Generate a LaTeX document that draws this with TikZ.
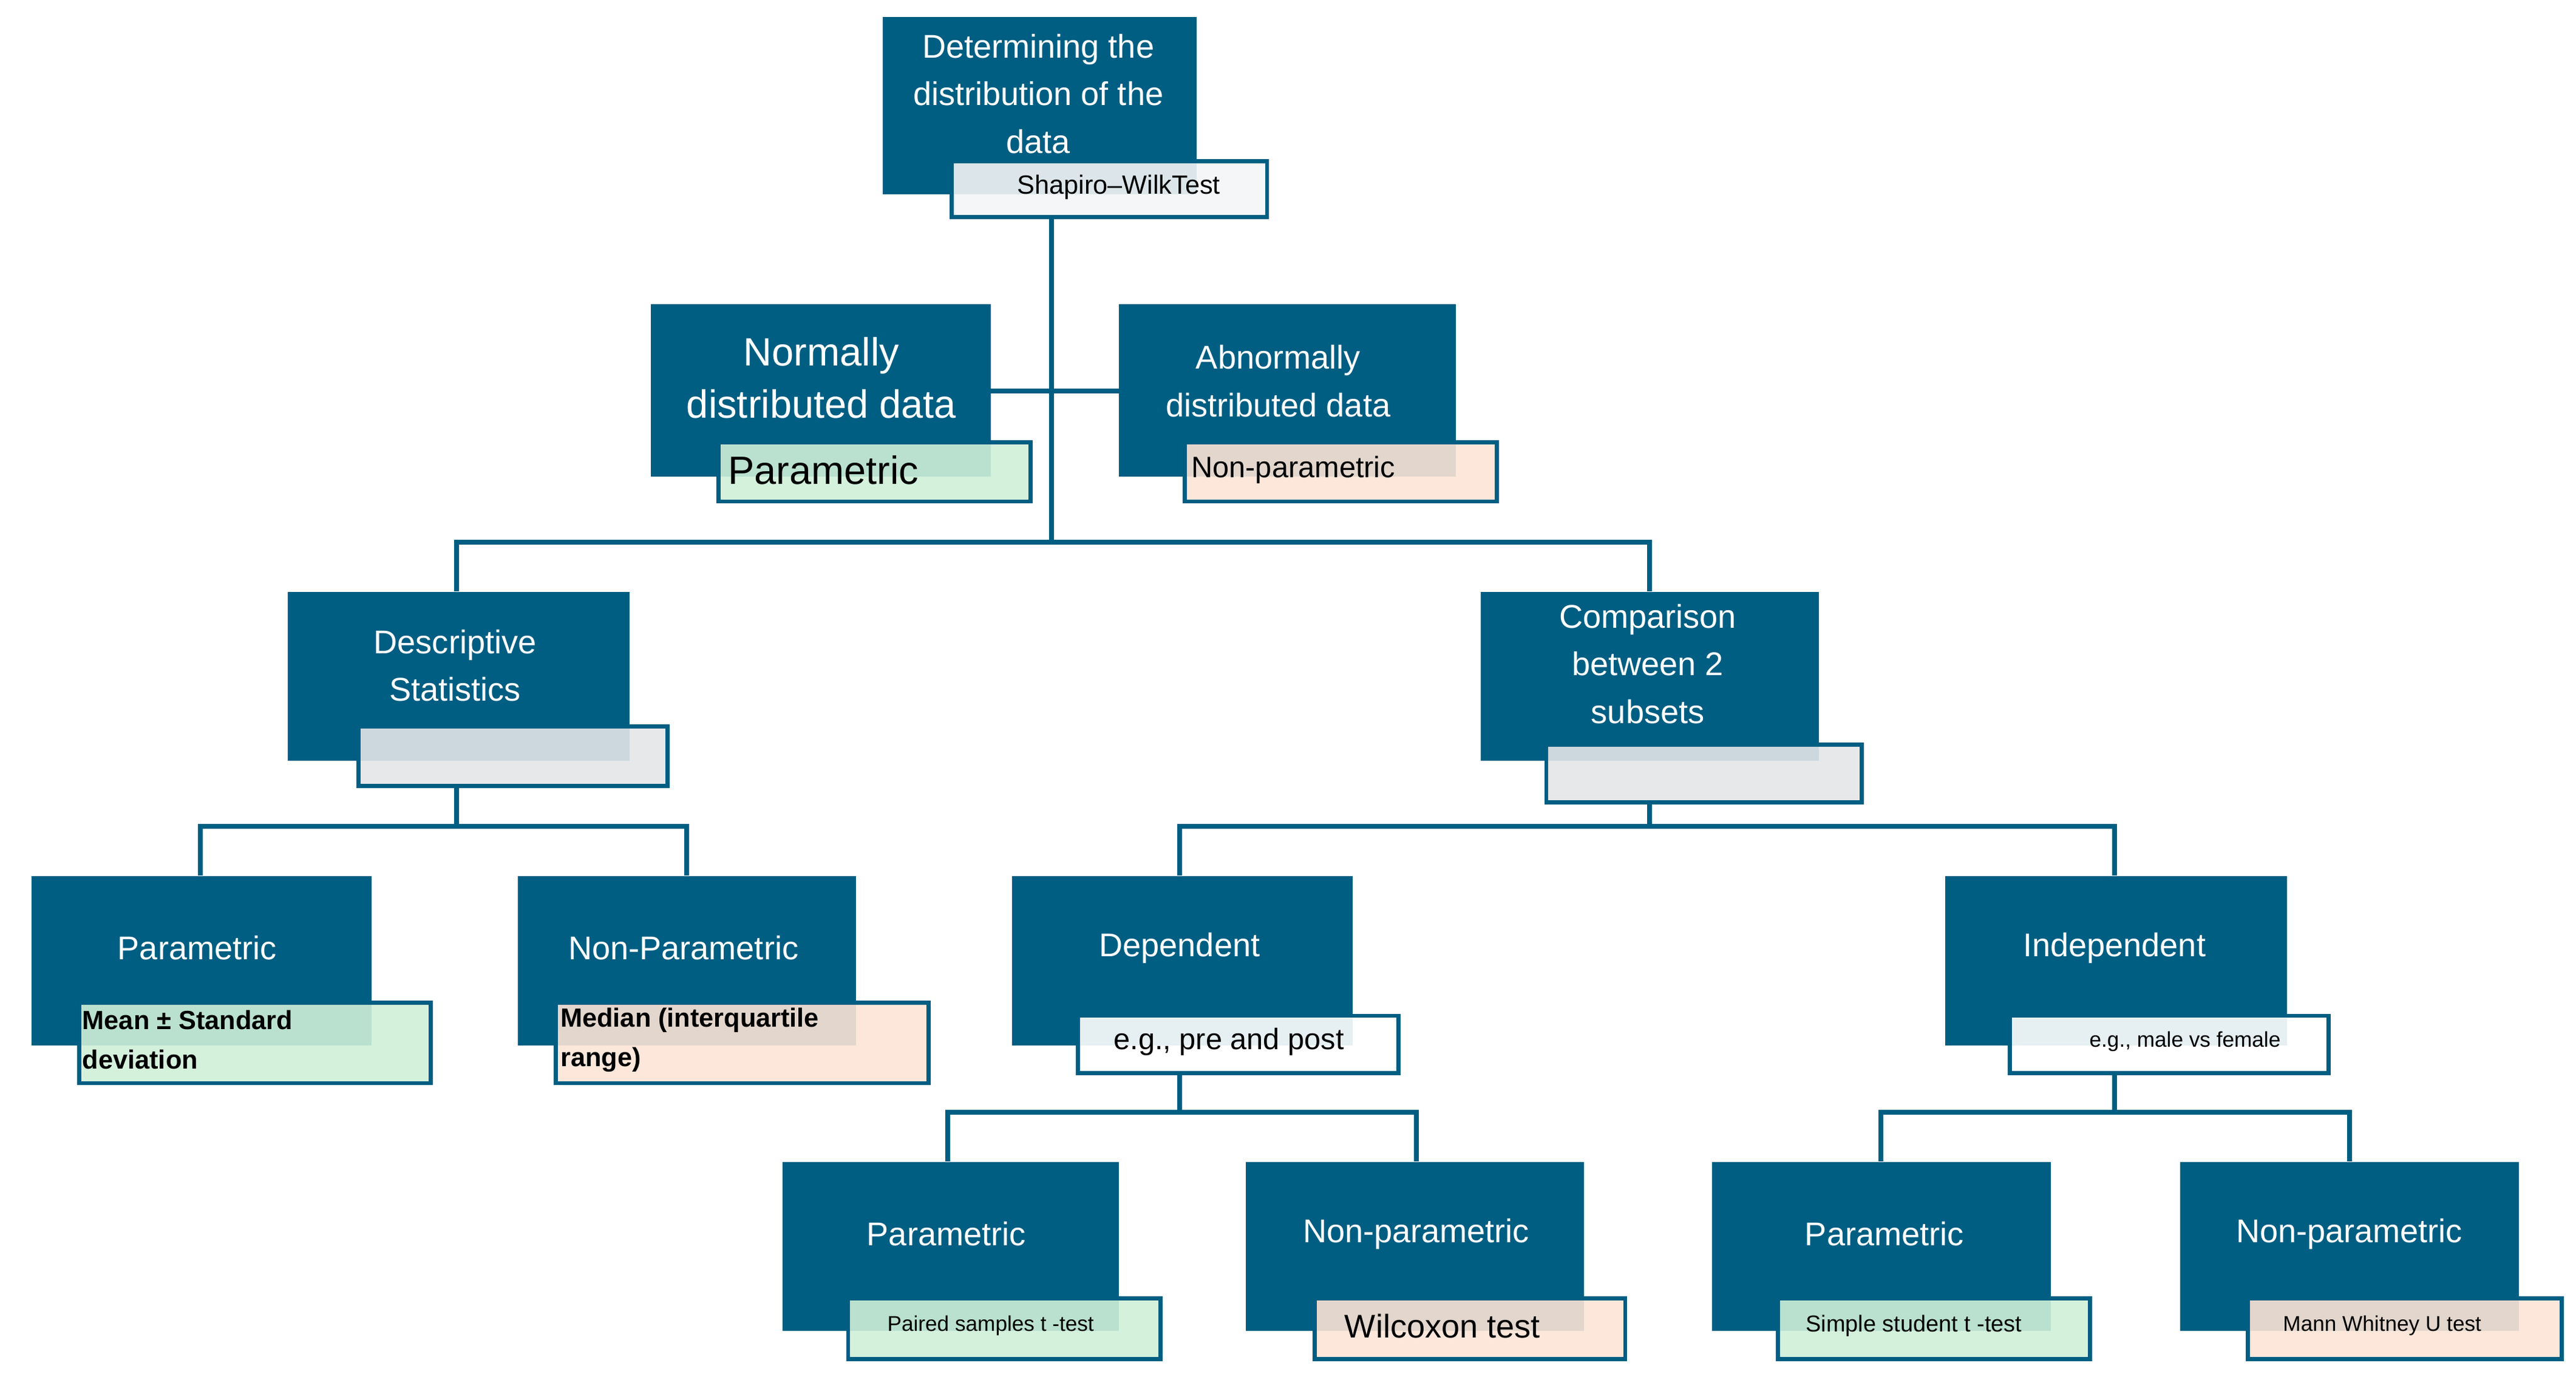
\documentclass[tikz,border=0pt]{standalone}
\usepackage{fontspec}
\setmainfont{Liberation Sans}
\definecolor{dblue}{RGB}{0,94,130}
\definecolor{pgreen}{RGB}{207,240,216}
\definecolor{ppeach}{RGB}{252,228,214}
\definecolor{pgray}{RGB}{227,230,232}
\tikzset{
  dbox/.style={fill=dblue,draw=none,anchor=north west,inner sep=0},
  sbox/.style={draw=dblue,line width=2.5pt,anchor=north west,inner sep=0,fill opacity=0.9},
  wtxt/.style={text=white,align=center,font=\fontsize{20}{29}\selectfont,inner sep=0},
  stxt/.style={text=black,inner sep=0},
  link/.style={draw=dblue,line width=3pt}
}
\begin{document}
\begin{tikzpicture}[x=1pt,y=-1pt]
\useasboundingbox (0,0) rectangle (1568,838);
% connectors
\coordinate (top) at (640,131);
\coordinate (hl) at (278,330); \coordinate (hr) at (1004,330);
\draw[link] (top) -- (640,330);
\draw[link] (603,238) -- (681,238);
\draw[link] (278,360) -- (hl) -- (hr) -- (1004,360);
\draw[link] (278,477) -- (278,503);
\draw[link] (122,533) -- (122,503) -- (418,503) -- (418,533);
\draw[link] (1004,487) -- (1004,503);
\draw[link] (718,533) -- (718,503) -- (1287,503) -- (1287,533);
\draw[link] (718,652) -- (718,677);
\draw[link] (577,707) -- (577,677) -- (862,677) -- (862,707);
\draw[link] (1287,652) -- (1287,677);
\draw[link] (1145,707) -- (1145,677) -- (1430,677) -- (1430,707);
% boxes
\node[dbox,minimum width=191,minimum height=108] (dist) at (537,10) {};
\node[sbox,fill=pgray!40,minimum width=192,minimum height=34] (distS) at (578,97) {};
\node[dbox,minimum width=207,minimum height=105] (norm) at (396,185) {};
\node[sbox,fill=pgreen,minimum width=190,minimum height=36] (normS) at (436,268) {};
\node[dbox,minimum width=205,minimum height=105] (abn) at (681,185) {};
\node[sbox,fill=ppeach,minimum width=190,minimum height=36] (abnS) at (720,268) {};
\node[dbox,minimum width=208,minimum height=103] (desc) at (175,360) {};
\node[sbox,fill=pgray,minimum width=188,minimum height=36] (descS) at (217,441) {};
\node[dbox,minimum width=206,minimum height=103] (comp) at (901,360) {};
\node[sbox,fill=pgray,minimum width=192,minimum height=35] (compS) at (940,452) {};
\node[dbox,minimum width=207,minimum height=103] (dpar) at (19,533) {};
\node[sbox,fill=pgreen,minimum width=214,minimum height=49] (dparS) at (47,609) {};
\node[dbox,minimum width=206,minimum height=103] (dnon) at (315,533) {};
\node[sbox,fill=ppeach,minimum width=227,minimum height=49] (dnonS) at (337,609) {};
\node[dbox,minimum width=207,minimum height=103] (dep) at (616,533) {};
\node[sbox,fill=white,minimum width=195,minimum height=35] (depS) at (655,617) {};
\node[dbox,minimum width=208,minimum height=103] (ind) at (1184,533) {};
\node[sbox,fill=white,minimum width=194,minimum height=35] (indS) at (1222,617) {};
\node[dbox,minimum width=205,minimum height=103] (ppar) at (476,707) {};
\node[sbox,fill=pgreen,minimum width=190,minimum height=37] (pparS) at (515,789) {};
\node[dbox,minimum width=206,minimum height=103] (pnon) at (758,707) {};
\node[sbox,fill=ppeach,minimum width=189,minimum height=37] (pnonS) at (799,789) {};
\node[dbox,minimum width=206,minimum height=103] (ipar) at (1042,707) {};
\node[sbox,fill=pgreen,minimum width=190,minimum height=37] (iparS) at (1081,789) {};
\node[dbox,minimum width=206,minimum height=103] (inon) at (1327,707) {};
\node[sbox,fill=ppeach,minimum width=191,minimum height=37] (inonS) at (1367,789) {};
% texts
\node[wtxt] (distT) at (632,57) {Determining the\\distribution of the\\data};
\node[wtxt,font=\fontsize{24}{32}\selectfont] (normT) at (500,230) {Normally\\distributed data};
\node[wtxt] (abnT) at (778,232) {Abnormally\\distributed data};
\node[wtxt] (descT) at (277,405) {Descriptive\\Statistics};
\node[wtxt] (compT) at (1003,404) {Comparison\\between 2\\subsets};
\node[wtxt] (dparT) at (120,577) {Parametric};
\node[wtxt] (dnonT) at (416,577) {Non-Parametric};
\node[wtxt] (depT) at (718,577) {Dependent};
\node[wtxt] (indT) at (1287,577) {Independent};
\node[wtxt] (pparT) at (576,751) {Parametric};
\node[wtxt] (pnonT) at (862,751) {Non-parametric};
\node[wtxt] (iparT) at (1147,751) {Parametric};
\node[wtxt] (inonT) at (1430,751) {Non-parametric};
\node[stxt,font=\fontsize{16}{18}\selectfont] at (681,114) {Shapiro–WilkTest};
\node[stxt,font=\fontsize{24}{26}\selectfont,anchor=west] at (443,286) {Parametric};
\node[stxt,font=\fontsize{18}{20}\selectfont,anchor=west] at (725,286) {Non-parametric};
\node[stxt,font=\bfseries\fontsize{16}{24}\selectfont,align=left,anchor=west] at (50,633) {Mean ± Standard\\deviation};
\node[stxt,font=\bfseries\fontsize{16}{24}\selectfont,align=left,anchor=west] at (341,633) {Median (interquartile\\range)};
\node[stxt,font=\fontsize{18}{20}\selectfont] at (748,634) {e.g., pre and post};
\node[stxt,font=\fontsize{13}{15}\selectfont] at (1330,634) {e.g., male vs female};
\node[stxt,font=\fontsize{13}{15}\selectfont] at (603,807) {Paired samples t -test};
\node[stxt,font=\fontsize{20}{22}\selectfont] at (878,807) {Wilcoxon test};
\node[stxt,font=\fontsize{14}{16}\selectfont] at (1165,807) {Simple student t -test};
\node[stxt,font=\fontsize{13}{15}\selectfont] at (1450,807) {Mann Whitney U test};
\end{tikzpicture}
\end{document}
